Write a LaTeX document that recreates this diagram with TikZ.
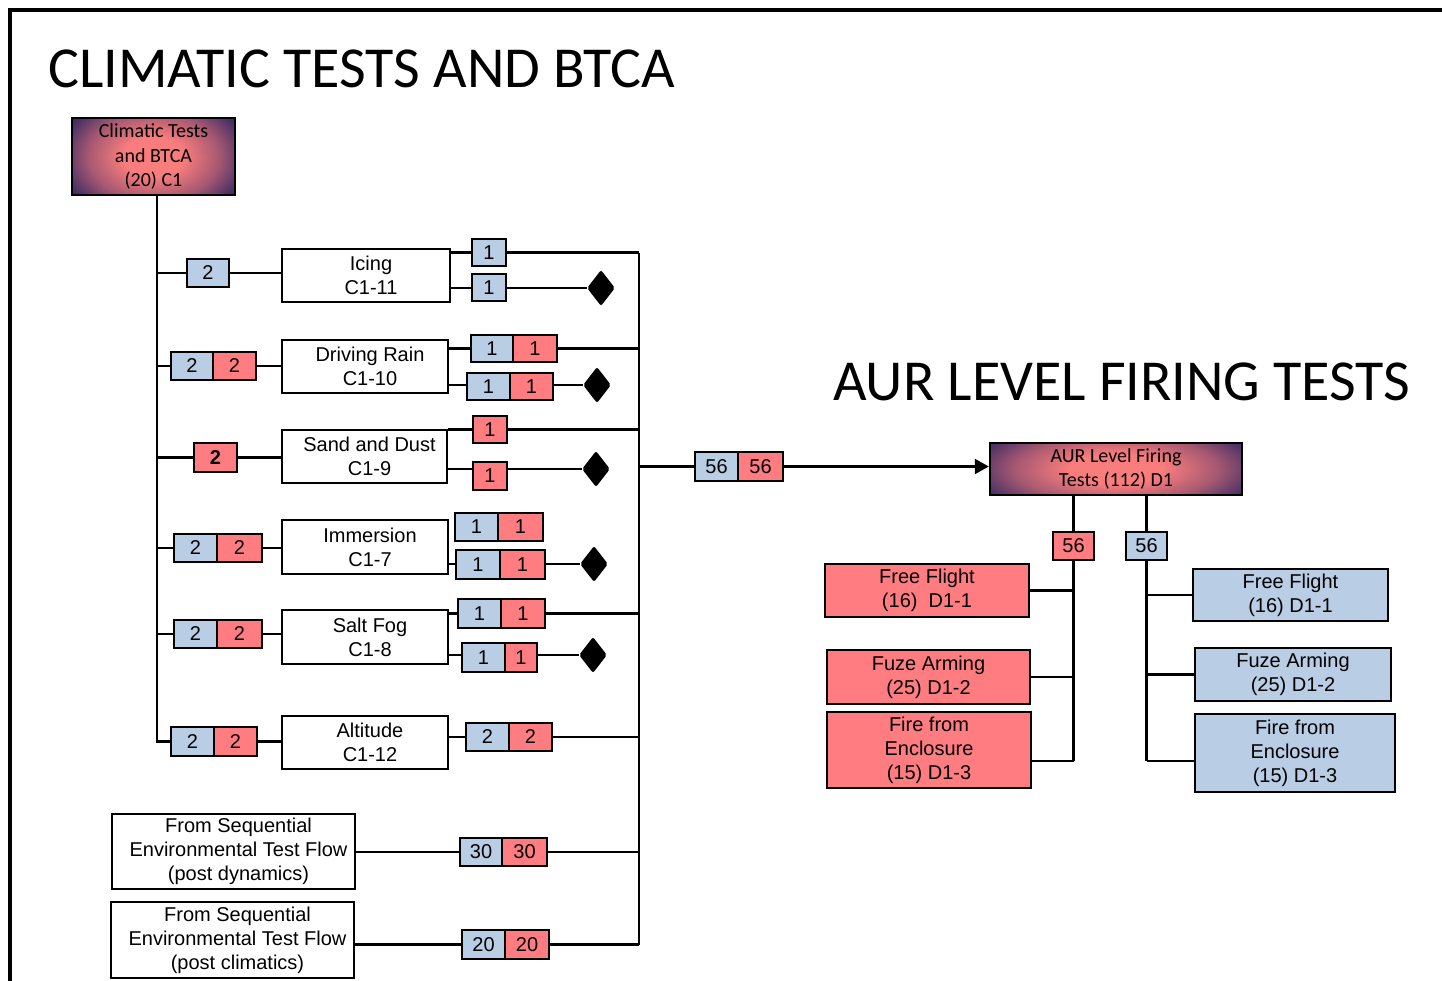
\documentclass[tikz,border=0pt]{standalone}
\usepackage{fontspec}
\setsansfont{Liberation Sans}
\newfontfamily\calfont{Carlito}
\usetikzlibrary{shapes.geometric,arrows.meta,calc}
\definecolor{bl}{RGB}{185,205,229}
\definecolor{rd}{RGB}{255,124,128}
\definecolor{pk}{RGB}{250,125,125}
\definecolor{nv}{RGB}{30,30,95}
\pgfdeclareradialshading{glow}{\pgfpoint{0bp}{0bp}}{color(0bp)=(pk); color(9bp)=(pk); color(20bp)=(nv!38!pk); color(28bp)=(nv!78!pk); color(34bp)=(nv); color(50bp)=(nv)}
\newcommand\rn[7]{\node[#2, minimum width={#5-#3}, minimum height={#6-#4}] (#1) at ({(#3+#5)/2},{(#4+#6)/2}) {#7};}
\tikzset{
  ln/.style={line width=2.2pt},
  bx/.style={draw, line width=2.4pt, fill=white, align=center, inner sep=0pt, font=\sffamily\fontsize{20}{24}\selectfont},
  bsq/.style={bx, fill=bl},
  rsq/.style={bx, fill=rd},
  gr/.style={draw, line width=2.4pt, align=center, inner sep=0pt, font=\calfont\fontsize{20}{24.5}\selectfont,
    path picture={\shade[shading=glow] ($(path picture bounding box.south west)+(0,16)$) rectangle ($(path picture bounding box.north east)+(0,-16)$);}},
  dm/.style={diamond, fill=black, inner sep=0pt, minimum width=28pt, minimum height=36pt, rounded corners=2pt},
  ttl/.style={anchor=base west, inner sep=0pt, font=\calfont\fontsize{58}{60}\selectfont},
}
\begin{document}
\begin{tikzpicture}[x=1pt,y=-1pt]
\useasboundingbox (0,0) rectangle (1442,980);
\draw[line width=4pt] (10,982) -- (10,10) -- (1444,10);
\node[ttl] (t1) at (48,87) {CLIMATIC TESTS AND BTCA};
\node[ttl] (t2) at (833,400) {AUR LEVEL FIRING TESTS};
\coordinate (tk) at (157,0);
\coordinate (bus) at (639,0);
\coordinate (rb) at (0,761);
% main boxes
\rn{c1}{gr}{72}{118}{235}{195}{Climatic Tests\\and BTCA\\(20) C1}
\rn{aur}{gr}{990}{443}{1242}{495}{AUR Level Firing\\Tests (112) D1}
% Icing
\rn{i2}{bsq}{187}{259}{229}{287}{2}
\rn{ic}{bx}{282}{249}{450}{302}{\hspace*{10pt}Icing\\\hspace*{10pt}C1-11}
\rn{io1}{bsq}{472}{239}{506}{266}{1}
\rn{io2}{bsq}{472}{274}{506}{301}{1}
\node[dm] (id) at (601,288) {};
% Driving rain
\rn{dl1}{bsq}{171}{352}{213}{380}{2}
\rn{dl2}{rsq}{213}{352}{256}{380}{2}
\rn{dr}{bx}{282}{340}{448}{393}{\hspace*{10pt}Driving Rain\\\hspace*{10pt}C1-10}
\rn{dt1}{bsq}{471}{335}{513}{362}{1}
\rn{dt2}{rsq}{513}{335}{557}{362}{1}
\rn{db1}{bsq}{467}{373}{510}{400}{1}
\rn{db2}{rsq}{510}{373}{553}{400}{1}
\node[dm] (dd) at (597,385) {};
% Sand and dust
\rn{sl}{rsq}{194}{443}{237}{472}{\textbf{2}}
\rn{sd}{bx}{282}{430}{447}{483}{\hspace*{10pt}Sand and Dust\\\hspace*{10pt}C1-9}
\rn{st}{rsq}{473}{416}{507}{443}{1}
\rn{sb}{rsq}{473}{462}{507}{490}{1}
\node[dm] (sdd) at (596,469) {};
% Immersion
\rn{ml1}{bsq}{174}{534}{217}{562}{2}
\rn{ml2}{rsq}{217}{534}{262}{562}{2}
\rn{im}{bx}{282}{520}{448}{574}{\hspace*{10pt}Immersion\\\hspace*{10pt}C1-7}
\rn{mt1}{bsq}{455}{513}{498}{541}{1}
\rn{mt2}{rsq}{498}{513}{543}{541}{1}
\rn{mb1}{bsq}{456}{550}{500}{579}{1}
\rn{mb2}{rsq}{500}{550}{545}{579}{1}
\node[dm] (md) at (594,564) {};
% Salt fog
\rn{fl1}{bsq}{174}{620}{217}{648}{2}
\rn{fl2}{rsq}{217}{620}{262}{648}{2}
\rn{sf}{bx}{282}{610}{448}{664}{\hspace*{10pt}Salt Fog\\\hspace*{10pt}C1-8}
\rn{ft1}{bsq}{458}{599}{501}{628}{1}
\rn{ft2}{rsq}{501}{599}{545}{628}{1}
\rn{fb1}{bsq}{462}{643}{505}{672}{1}
\rn{fb2}{rsq}{505}{643}{537}{672}{1}
\node[dm] (fd) at (593,655) {};
% Altitude
\rn{al1}{bsq}{171}{727}{214}{756}{2}
\rn{al2}{rsq}{214}{727}{257}{756}{2}
\rn{alt}{bx}{282}{716}{448}{769}{\hspace*{10pt}Altitude\\\hspace*{10pt}C1-12}
\rn{ao1}{bsq}{466}{723}{509}{751}{2}
\rn{ao2}{rsq}{509}{723}{552}{751}{2}
% Sequential flows
\rn{s1}{bx}{112}{814}{355}{889}{\hspace*{10pt}From Sequential\\\hspace*{10pt}Environmental Test Flow\\\hspace*{10pt}(post dynamics)}
\rn{q1a}{bsq}{460}{838}{502}{866}{30}
\rn{q1b}{rsq}{502}{838}{547}{866}{30}
\rn{s2}{bx}{111}{902}{354}{978}{\hspace*{10pt}From Sequential\\\hspace*{10pt}Environmental Test Flow\\\hspace*{10pt}(post climatics)}
\rn{q2a}{bsq}{462}{930}{505}{959}{20}
\rn{q2b}{rsq}{505}{930}{549}{959}{20}
% 56 pair
\rn{nb}{bsq}{695}{452}{738}{481}{56}
\rn{nr}{rsq}{738}{452}{783}{481}{56}
% right side
\rn{r56}{rsq}{1053}{532}{1094}{560}{56}
\rn{b56}{bsq}{1126}{532}{1167}{560}{56}
\rn{rff}{rsq}{825}{564}{1029}{617}{Free Flight\\(16)~~D1-1}
\rn{rfa}{rsq}{827}{650}{1030}{704}{Fuze Arming\\(25) D1-2}
\rn{rfe}{rsq}{827}{712}{1031}{788}{Fire from\\Enclosure\\(15) D1-3}
\rn{bff}{bsq}{1193}{569}{1388}{621}{Free Flight\\(16) D1-1}
\rn{bfa}{bsq}{1195}{648}{1391}{701}{Fuze Arming\\(25) D1-2}
\rn{bfe}{bsq}{1195}{714}{1395}{792}{Fire from\\Enclosure\\(15) D1-3}
% trunk
\draw[ln] (tk |- c1.south) -- (tk |- al1.west) -- (al1.west);
% Icing
\draw[ln] (tk |- i2.west) -- (i2.west);
\draw[ln] (i2.east) -- (ic.west |- i2.east);
\draw[ln] (ic.east |- io1.west) -- (io1.west);
\draw[ln] (io1.east) -- (bus |- io1.east);
\draw[ln] (ic.east |- id.west) -- (io2.west |- id.west);
\draw[ln] (id.west -| io2.east) -- (id.west);
% Driving rain
\draw[ln] (tk |- dl1.west) -- (dl1.west);
\draw[ln] (dl2.east) -- (dr.west |- dl2.east);
\draw[ln] (dr.east |- dt1.west) -- (dt1.west);
\draw[ln] (dt2.east) -- (bus |- dt2.east);
\draw[ln] (dr.east |- dd.west) -- (db1.west |- dd.west);
\draw[ln] (dd.west -| db2.east) -- (dd.west);
% Sand and dust
\draw[ln] (tk |- sl.west) -- (sl.west);
\draw[ln] (sl.east) -- (sd.west |- sl.east);
\draw[ln] (sd.east |- st.west) -- (st.west);
\draw[ln] (st.east) -- (bus |- st.east);
\draw[ln] (sd.east |- sdd.west) -- (sb.west |- sdd.west);
\draw[ln] (sdd.west -| sb.east) -- (sdd.west);
% Immersion
\draw[ln] (tk |- ml1.west) -- (ml1.west);
\draw[ln] (ml2.east) -- (im.west |- ml2.east);
\draw[ln] (im.east |- md.west) -- (mb1.west |- md.west);
\draw[ln] (md.west -| mb2.east) -- (md.west);
% Salt fog
\draw[ln] (tk |- fl1.west) -- (fl1.west);
\draw[ln] (fl2.east) -- (sf.west |- fl2.east);
\draw[ln] (sf.east |- ft1.west) -- (ft1.west);
\draw[ln] (ft2.east) -- (bus |- ft2.east);
\draw[ln] (sf.east |- fd.west) -- (fb1.west |- fd.west);
\draw[ln] (fd.west -| fb2.east) -- (fd.west);
% Altitude
\draw[ln] (al2.east) -- (alt.west |- al2.east);
\draw[ln] (alt.east |- ao1.west) -- (ao1.west);
\draw[ln] (ao2.east) -- (bus |- ao2.east);
% Sequential
\draw[ln] (s1.east |- q1a.west) -- (q1a.west);
\draw[ln] (q1b.east) -- (bus |- q1b.east);
\draw[ln] (s2.east |- q2a.west) -- (q2a.west);
\draw[ln] (q2b.east) -- (bus |- q2b.east);
% bus
\draw[ln] (bus |- io1.east) -- (bus |- q2b.east);
\draw[ln] (bus |- nb.west) -- (nb.west);
\draw[ln, -{Triangle[length=14pt,width=15pt]}] (nr.east) -- (aur.west |- nr.east);
% right side
\draw[ln] (r56.north |- aur.south) -- (r56.north);
\draw[ln] (b56.north |- aur.south) -- (b56.north);
\draw[ln] (r56.south) -- (r56.south |- rb);
\draw[ln] (rff.east) -- (r56.south |- rff.east);
\draw[ln] (rfa.east) -- (r56.south |- rfa.east);
\draw[ln] (rfe.east |- rb) -- (r56.south |- rb);
\draw[ln] (b56.south) -- (b56.south |- rb);
\draw[ln] (b56.south |- bff.west) -- (bff.west);
\draw[ln] (b56.south |- bfa.west) -- (bfa.west);
\draw[ln] (b56.south |- rb) -- (bfe.west |- rb);
\end{tikzpicture}
\end{document}
